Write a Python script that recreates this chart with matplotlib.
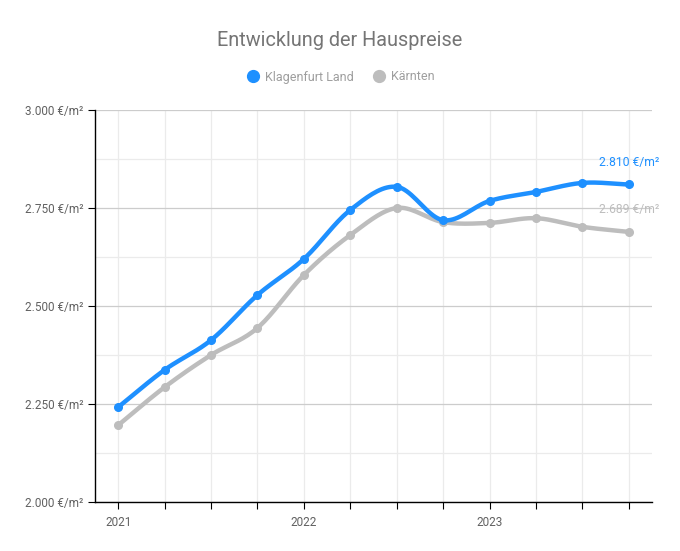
import numpy as np
import matplotlib
matplotlib.use("Agg")
import matplotlib.pyplot as plt
from matplotlib.ticker import FuncFormatter, MultipleLocator

plt.rcParams['font.family'] = ['Roboto', 'DejaVu Sans']

# Quartale 2021 Q1 .. 2023 Q4
quartale = list(range(12))
jahr_ticks = [0, 4, 8]
jahr_labels = ["2021", "2022", "2023"]

klagenfurt = [2242, 2337, 2413, 2528, 2620, 2745, 2804, 2719, 2768, 2791, 2814, 2810]
kaernten = [2196, 2293, 2375, 2444, 2579, 2681, 2750, 2714, 2712, 2724, 2702, 2689]

BLAU = "#1E90FF"
GRAU = "#BDBDBD"


def glatt(x, y, n=20):
    # Catmull-Rom Kurve durch die Punkte
    x = np.asarray(x, float)
    y = np.asarray(y, float)
    px = np.concatenate([[2 * x[0] - x[1]], x, [2 * x[-1] - x[-2]]])
    py = np.concatenate([[2 * y[0] - y[1]], y, [2 * y[-1] - y[-2]]])
    xs, ys = [], []
    t = np.linspace(0, 1, n)
    for i in range(1, len(px) - 2):
        for p, out in ((px, xs), (py, ys)):
            p0, p1, p2, p3 = p[i - 1], p[i], p[i + 1], p[i + 2]
            out.append(0.5 * ((2 * p1) + (-p0 + p2) * t
                              + (2 * p0 - 5 * p1 + 4 * p2 - p3) * t ** 2
                              + (-p0 + 3 * p1 - 3 * p2 + p3) * t ** 3))
    return np.concatenate(xs), np.concatenate(ys)


def euro(v, pos=None):
    return f"{v:,.0f} €/m²".replace(",", ".")


fig = plt.figure(figsize=(6.8, 5.51), dpi=100)
ax = fig.add_axes([95 / 680, 1 - 502 / 551, (652 - 95) / 680, (502 - 110) / 551])

for werte, farbe, z in ((kaernten, GRAU, 3), (klagenfurt, BLAU, 4)):
    sx, sy = glatt(quartale, werte)
    ax.plot(sx, sy, color=farbe, lw=3.2, zorder=z, solid_capstyle="round")
    ax.plot(quartale, werte, "o", color=farbe, ms=5.5, zorder=z)
    ax.annotate(euro(werte[-1]), (quartale[-1], werte[-1]), xytext=(0, 16),
                textcoords="offset points", ha="center", va="center",
                color=farbe, fontsize=8.7, annotation_clip=False, zorder=2)

ax.set_xlim(-0.5, 11.5)
ax.set_ylim(2000, 3000)
ax.set_xticks(quartale)
ax.set_xticklabels([jahr_labels[jahr_ticks.index(q)] if q in jahr_ticks else "" for q in quartale])
ax.yaxis.set_major_locator(MultipleLocator(250))
ax.yaxis.set_minor_locator(MultipleLocator(125))
ax.yaxis.set_major_formatter(FuncFormatter(euro))

ax.grid(axis="x", color="#EBEBEB", lw=0.9, zorder=0)
ax.grid(axis="y", which="major", color="#CCCCCC", lw=0.9, zorder=0)
ax.grid(axis="y", which="minor", color="#EBEBEB", lw=0.9, zorder=0)
ax.tick_params(axis="y", which="minor", length=0)
ax.tick_params(axis="both", which="major", length=5, width=0.8, colors="black",
               labelcolor="#616161", labelsize=8.5)
ax.tick_params(axis="x", pad=5)
for s in ("top", "right"):
    ax.spines[s].set_visible(False)
for s in ("left", "bottom"):
    ax.spines[s].set_color("black")
    ax.spines[s].set_linewidth(1)
ax.set_axisbelow(True)

fig.text(0.5, 1 - 40 / 551, "Entwicklung der Hauspreise", ha="center", va="center",
         fontsize=14.3, color="#757575")

fig.legend(handles=[plt.Line2D([], [], ls="", marker="o", ms=8.5, color=BLAU),
                    plt.Line2D([], [], ls="", marker="o", ms=8.5, color=GRAU)],
           labels=["Klagenfurt Land", "Kärnten"], loc="center",
           bbox_to_anchor=(0.5, 1 - 77 / 551), ncol=2, frameon=False,
           fontsize=9, labelcolor="#9E9E9E", handletextpad=0.4,
           columnspacing=1.4, handlelength=1.2)

fig.savefig("out.png", dpi=100)
